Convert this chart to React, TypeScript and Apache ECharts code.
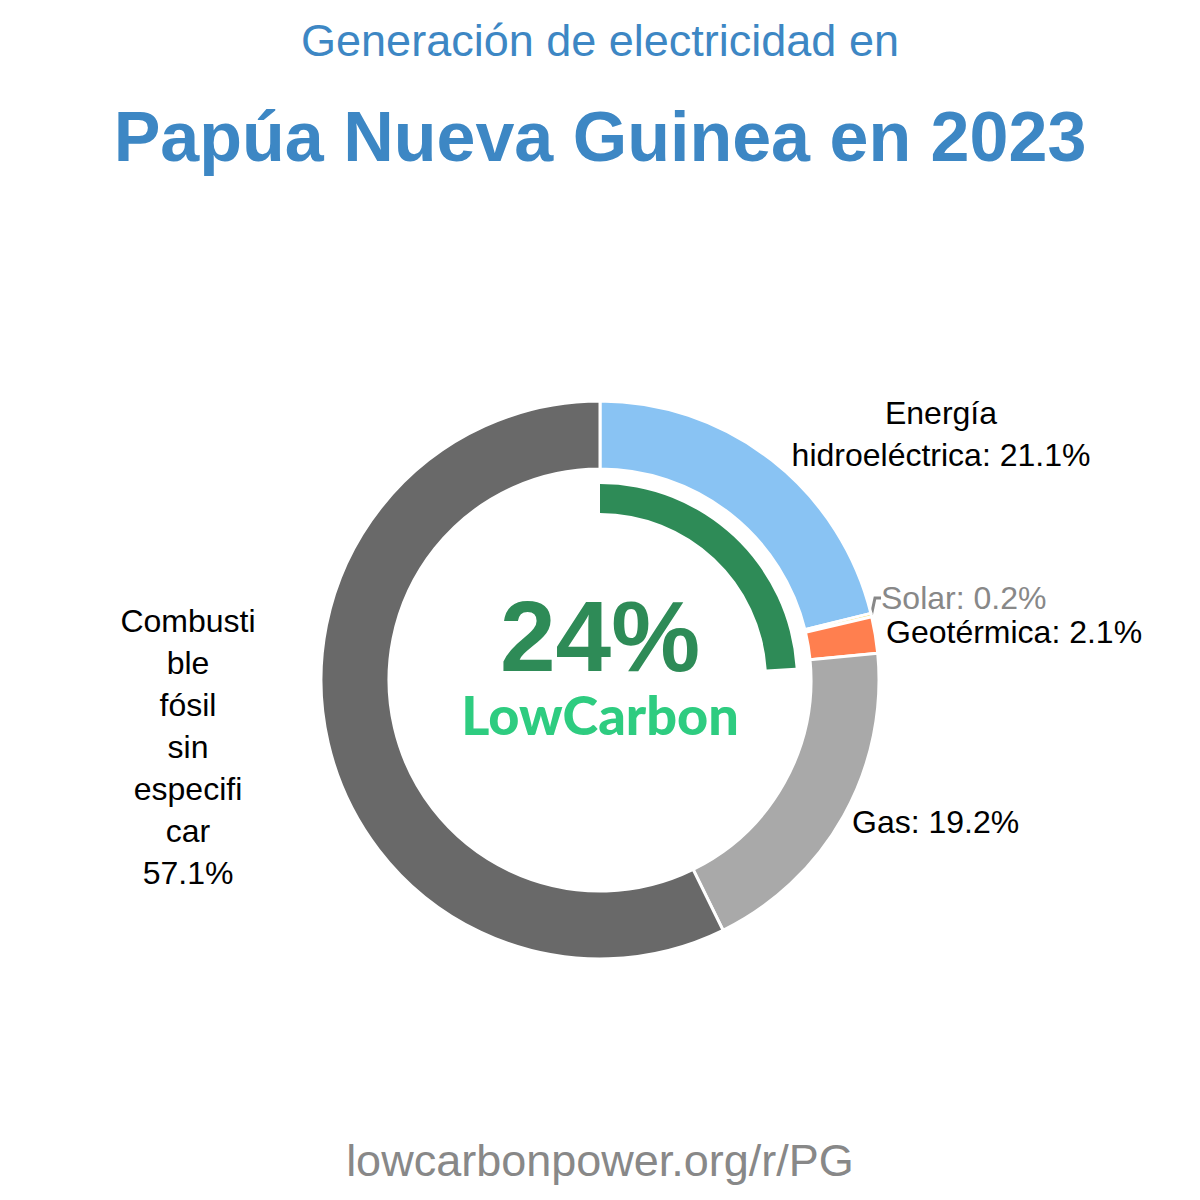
import React, { useEffect, useRef } from "react";
import * as echarts from "echarts";

const categories = [
  "Energía hidroeléctrica",
  "Solar",
  "Geotérmica",
  "Gas",
  "Combustible fósil sin especificar",
];
const values = [21.1, 0.2, 2.1, 19.2, 57.1];
const colors = ["#89c3f3", "#f5d33b", "#ff7f4f", "#a9a9a9", "#696969"];
// wrapped display of category names, as in the picture
const wrappedNames = [
  "Energía\nhidroeléctrica",
  "Solar",
  "Geotérmica",
  "Gas",
  "Combusti\nble\nfósil\nsin\nespecifi\ncar",
];
const separators = [": ", ": ", ": ", ": ", "\n"];
const lowCarbonShare = 24;

const titleTop = "Generación de electricidad en";
const titleMain = "Papúa Nueva Guinea en 2023";
const footer = "lowcarbonpower.org/r/PG";

const labelPlacement = [
  { x: 941, y: 434, align: "center" },
  { x: 881, y: 598, align: "left" },
  { x: 886, y: 632, align: "left" },
  { x: 852, y: 822, align: "left" },
  { x: 188, y: 747, align: "center" },
];

export default function App() {
  const ref = useRef<HTMLDivElement>(null);
  useEffect(() => {
    document.body.style.margin = "0";
    const chart = echarts.init(ref.current!, null, { renderer: "svg" });
    const font = "Liberation Sans, Arial, sans-serif";
    chart.setOption({
      animation: false,
      backgroundColor: "#ffffff",
      graphic: [
        {
          type: "text",
          x: 600,
          y: 40,
          style: {
            text: titleTop,
            fill: "#3d87c4",
            font: `45px ${font}`,
            textAlign: "center",
            textVerticalAlign: "middle",
          },
        },
        {
          type: "text",
          x: 600,
          y: 137,
          style: {
            text: titleMain,
            fill: "#3d87c4",
            font: `bold 70px ${font}`,
            textAlign: "center",
            textVerticalAlign: "middle",
          },
        },
        {
          type: "text",
          x: 600,
          y: 1160,
          style: {
            text: footer,
            fill: "#888888",
            font: `45px ${font}`,
            textAlign: "center",
            textVerticalAlign: "middle",
          },
        },
        {
          type: "text",
          x: 600,
          y: 636,
          style: {
            text: `${lowCarbonShare}%`,
            fill: "#2e8b57",
            font: `bold 100px ${font}`,
            lineHeight: 80,
            textAlign: "center",
            textVerticalAlign: "middle",
          },
        },
        {
          type: "text",
          x: 600,
          y: 714,
          style: {
            text: "LowCarbon",
            fill: "#2ecc80",
            font: `900 54px Lato, sans-serif`,
            lineHeight: 50,
            textAlign: "center",
            textVerticalAlign: "middle",
          },
        },
      ],
      series: [
        {
          type: "pie",
          center: [600, 680],
          radius: [211, 279],
          startAngle: 90,
          clockwise: true,
          avoidLabelOverlap: false,
          itemStyle: { borderColor: "#ffffff", borderWidth: 3 },
          label: {
            show: true,
            position: "outside",
            fontFamily: font,
            fontSize: 32,
            lineHeight: 42,
            color: "#000000",
            formatter: (p: any) =>
              `${wrappedNames[p.dataIndex]}${separators[p.dataIndex]}${values[p.dataIndex]}%`,
          },
          labelLine: { show: false, length: 6, length2: 6 },
          labelLayout: (p: any) => {
            const l = labelPlacement[p.dataIndex];
            return { x: l.x, y: l.y, align: l.align, verticalAlign: "middle" };
          },
          data: categories.map((name, i) => ({
            name,
            value: values[i],
            itemStyle: { color: colors[i] },
            label:
              i === 1
                ? { color: "#888888", align: "left" }
                : { align: labelPlacement[i].align },
            labelLine:
              i === 1
                ? { show: true, lineStyle: { color: "#888888", width: 3 } }
                : { show: false },
          })),
        },
        {
          type: "pie",
          center: [600, 680],
          radius: [167, 196],
          startAngle: 90,
          clockwise: true,
          silent: true,
          label: { show: false },
          labelLine: { show: false },
          data: [
            { value: lowCarbonShare, itemStyle: { color: "#2e8b57" } },
            { value: 100 - lowCarbonShare, itemStyle: { color: "transparent" } },
          ],
        },
      ],
    });
    return () => chart.dispose();
  }, []);
  return (
    <div
      ref={ref}
      style={{ position: "absolute", left: 0, top: 0, width: 1200, height: 1200 }}
    />
  );
}
